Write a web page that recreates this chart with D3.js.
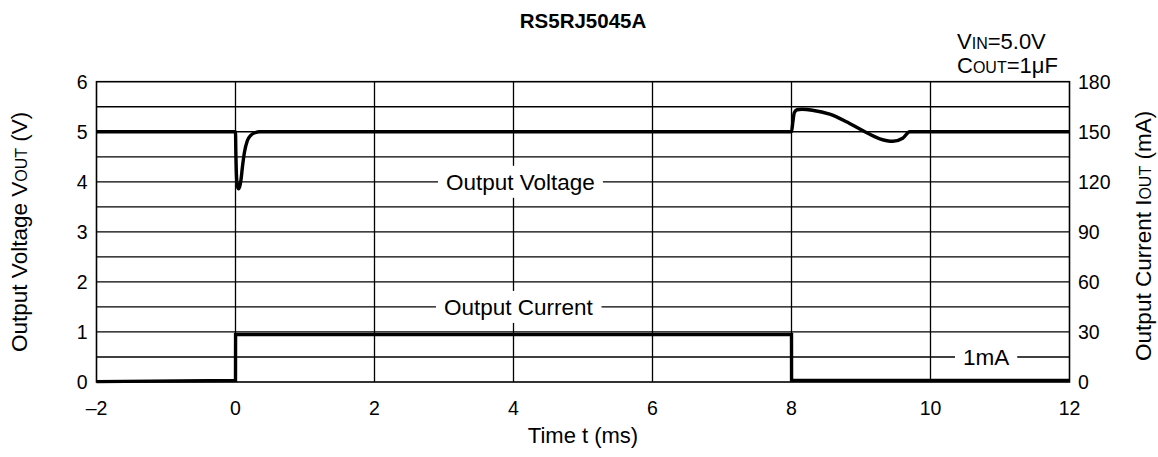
<!DOCTYPE html>
<html>
<head>
<meta charset="utf-8">
<script src="https://cdn.jsdelivr.net/npm/d3@7"></script>
<style>
  html, body { margin: 0; padding: 0; background: #fff; }
  svg { display: block; font-family: "Liberation Sans", Arial, Helvetica, sans-serif; }
</style>
</head>
<body>
<svg id="chart" width="1158" height="457"></svg>
<script>
// ---- data ----
const title = "RS5RJ5045A";
const xTicks = [-2, 0, 2, 4, 6, 8, 10, 12];
const xTickLabels = ["\u20132", "0", "2", "4", "6", "8", "10", "12"];
const yLeftTicks = [0, 1, 2, 3, 4, 5, 6];
const yRightTicks = [0, 30, 60, 90, 120, 150, 180];
const gridY = [0.5, 1, 1.5, 2, 2.5, 3, 3.5, 4, 4.5, 5, 5.5];
const gridX = [0, 2, 4, 6, 8, 10];

// Output voltage (V) vs time (ms)
const voltT = [-2, 0, 0.005, 0.015, 0.03, 0.045, 0.06, 0.08, 0.1, 0.13, 0.17, 0.22, 0.28, 0.35, 0.5,
               8.0, 8.02, 8.04, 8.08, 8.15, 8.3, 8.55, 8.79, 9.03, 9.27, 9.46, 9.6, 9.7, 12];
const voltV = [5.0, 5.0, 4.6, 4.1, 3.9, 3.86, 3.9, 4.05, 4.3, 4.6, 4.82, 4.93, 4.98, 5.0, 5.0,
               5.0, 5.2, 5.38, 5.44, 5.45, 5.43, 5.35, 5.2, 5.02, 4.86, 4.81, 4.87, 5.0, 5.0];

// Output current (mA) vs time (ms)
const currT = [-2, 0, 0.001, 8.0, 8.001, 12];
const currI = [0.2, 1, 28.5, 28.5, 1, 1];

// annotations (data coords: t in ms, v in V)
const annotations = [
  { text: "Output Voltage", t: 4.1, v: 4.0 },
  { text: "Output Current", t: 4.07, v: 1.5 },
  { text: "1mA", t: 10.8, v: 0.5 }
];

// ---- layout ----
const svg = d3.select("#chart");
const m = { left: 96.5, right: 1069.5, top: 81.7, bottom: 382 };
const x = d3.scaleLinear().domain([-2, 12]).range([m.left, m.right]);
const yV = d3.scaleLinear().domain([0, 6]).range([m.bottom, m.top]);
const yI = d3.scaleLinear().domain([0, 180]).range([m.bottom, m.top]);

const FS_TICK = 19.5;
const FS_ANN = 22.5;
const FS_AXT = 22.5;
const FS_SUB = 16;

// gridlines
const grid = svg.append("g").attr("stroke", "#000").attr("stroke-width", 1.3);
grid.selectAll("line.h").data(gridY).enter().append("line")
  .attr("x1", m.left).attr("x2", m.right)
  .attr("y1", d => yV(d)).attr("y2", d => yV(d));
grid.selectAll("line.v").data(gridX).enter().append("line")
  .attr("x1", d => x(d)).attr("x2", d => x(d))
  .attr("y1", m.top).attr("y2", m.bottom);

// annotation label boxes (white) + text
const ann = svg.append("g");
annotations.forEach(a => {
  const t = ann.append("text")
    .attr("x", x(a.t)).attr("y", yV(a.v) + 8)
    .attr("text-anchor", "middle")
    .attr("font-size", FS_ANN).text(a.text);
  const bb = t.node().getBBox();
  ann.insert("rect", "text")
    .attr("x", bb.x - 8).attr("y", yV(a.v) - 16)
    .attr("width", bb.width + 16).attr("height", 32)
    .attr("fill", "#fff");
});

// border
svg.append("rect")
  .attr("x", m.left).attr("y", m.top)
  .attr("width", m.right - m.left).attr("height", m.bottom - m.top)
  .attr("fill", "none").attr("stroke", "#000").attr("stroke-width", 1.6);

// data lines
const vData = voltT.map((t, i) => [t, voltV[i]]);
const iData = currT.map((t, i) => [t, currI[i]]);
svg.append("path")
  .attr("d", d3.line().x(d => x(d[0])).y(d => yV(d[1])).curve(d3.curveMonotoneX)(vData))
  .attr("fill", "none").attr("stroke", "#000").attr("stroke-width", 3.4)
  .attr("stroke-linejoin", "round");
svg.append("path")
  .attr("d", d3.line().x(d => x(d[0])).y(d => yI(d[1]))(iData))
  .attr("fill", "none").attr("stroke", "#000").attr("stroke-width", 3.4)
  .attr("stroke-linejoin", "miter");

// axes tick labels
svg.append("g").selectAll("text").data(yLeftTicks).enter().append("text")
  .attr("x", m.left - 9).attr("y", d => yV(d) + 7)
  .attr("text-anchor", "end")
  .attr("font-size", FS_TICK).text(d => d);
svg.append("g").selectAll("text").data(yRightTicks).enter().append("text")
  .attr("x", m.right + 8.5).attr("y", d => yI(d) + 7)
  .attr("text-anchor", "start")
  .attr("font-size", FS_TICK).text(d => d);
svg.append("g").selectAll("text").data(xTicks).enter().append("text")
  .attr("x", d => x(d)).attr("y", 415)
  .attr("text-anchor", "middle")
  .attr("font-size", FS_TICK).text((d, i) => xTickLabels[i]);

// axis titles
svg.append("text").attr("x", 583).attr("y", 443)
  .attr("text-anchor", "middle").attr("font-size", FS_AXT - 0.5).text("Time t (ms)");

const lt = svg.append("text")
  .attr("transform", `translate(27,${(m.top + m.bottom) / 2}) rotate(-90)`)
  .attr("text-anchor", "middle").attr("font-size", FS_AXT);
lt.append("tspan").text("Output Voltage V");
lt.append("tspan").attr("font-size", FS_SUB).text("OUT");
lt.append("tspan").text(" (V)");

const rt = svg.append("text")
  .attr("transform", `translate(1151,${(m.top + m.bottom) / 2 + 4}) rotate(-90)`)
  .attr("text-anchor", "middle").attr("font-size", FS_AXT);
rt.append("tspan").text("Output Current I");
rt.append("tspan").attr("font-size", FS_SUB).text("OUT");
rt.append("tspan").text(" (mA)");

// title
svg.append("text").attr("x", 583).attr("y", 28)
  .attr("text-anchor", "middle").attr("font-size", 20.5).attr("font-weight", "bold")
  .text(title);

// conditions
const c1 = svg.append("text").attr("x", 957).attr("y", 49).attr("font-size", 22);
c1.append("tspan").text("V");
c1.append("tspan").attr("font-size", FS_SUB).text("IN");
c1.append("tspan").text("=5.0V");
const c2 = svg.append("text").attr("x", 957).attr("y", 72.5).attr("font-size", 22);
c2.append("tspan").text("C");
c2.append("tspan").attr("font-size", FS_SUB).text("OUT");
c2.append("tspan").text("=1\u03bcF");
</script>
</body>
</html>
